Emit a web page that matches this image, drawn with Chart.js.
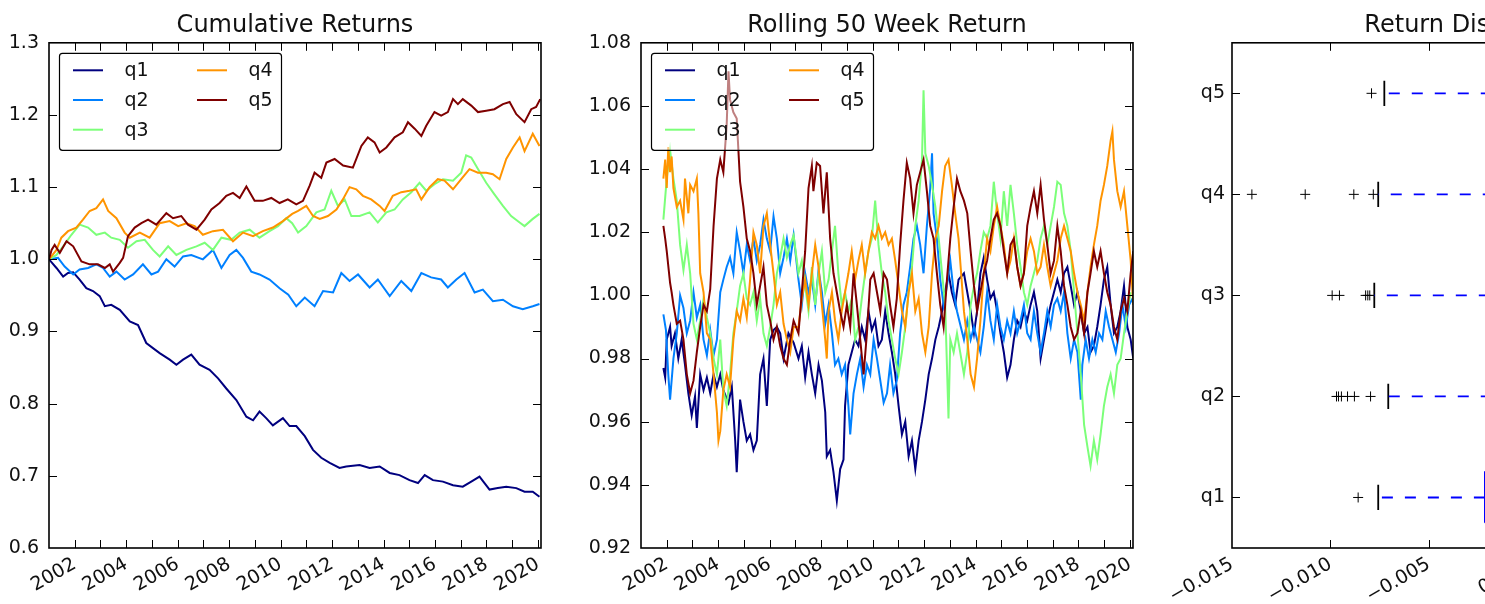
<!DOCTYPE html>
<html>
<head>
<meta charset="utf-8">
<script src="https://cdn.jsdelivr.net/npm/chart.js@4.4.0/dist/chart.umd.min.js"></script>
<style>
  html, body { margin: 0; padding: 0; background: #fff; overflow: hidden; }
  #wrap { position: relative; width: 1485px; height: 604px; overflow: hidden; }
  canvas { position: absolute; top: 0; }
</style>
</head>
<body>
<div id="wrap">
  <canvas id="cum" width="592" height="604" style="left:0px"></canvas>
  <canvas id="roll" width="632" height="604" style="left:552px"></canvas>
  <canvas id="dist" width="632" height="604" style="left:1143px"></canvas>
</div>
<script>
// ---- data ----
const seriesNames = ['q1', 'q2', 'q3', 'q4', 'q5'];
const seriesColors = ['#00007f', '#0080ff', '#7cff79', '#ff9400', '#7f0000'];
const panelTitles = ['Cumulative Returns', 'Rolling 50 Week Return', 'Return Distribution'];
const yearTicks = [2002, 2003, 2004, 2005, 2006, 2007, 2008, 2009, 2010, 2011, 2012, 2013, 2014, 2015, 2016, 2017, 2018, 2019, 2020];

// cumulative returns, [year, value]
const cumQ1 = [[2001.00,1.000],[2001.29,0.988],[2001.55,0.976],[2001.74,0.981],[2001.94,0.982],[2002.19,0.972],[2002.45,0.960],[2002.71,0.956],[2002.97,0.949],[2003.17,0.935],[2003.42,0.937],[2003.75,0.930],[2004.14,0.914],[2004.46,0.909],[2004.78,0.884],[2005.04,0.877],[2005.30,0.870],[2005.69,0.861],[2005.95,0.854],[2006.21,0.861],[2006.53,0.868],[2006.85,0.854],[2007.24,0.847],[2007.57,0.835],[2007.89,0.821],[2008.28,0.805],[2008.67,0.782],[2008.93,0.777],[2009.18,0.789],[2009.44,0.780],[2009.70,0.770],[2010.09,0.780],[2010.35,0.769],[2010.61,0.769],[2010.94,0.755],[2011.26,0.736],[2011.58,0.725],[2011.91,0.718],[2012.29,0.711],[2012.55,0.713],[2013.07,0.715],[2013.46,0.711],[2013.85,0.713],[2014.24,0.704],[2014.62,0.701],[2015.01,0.694],[2015.34,0.690],[2015.60,0.701],[2015.92,0.694],[2016.31,0.692],[2016.70,0.687],[2017.08,0.685],[2017.41,0.692],[2017.73,0.699],[2018.12,0.681],[2018.44,0.683],[2018.77,0.685],[2019.16,0.683],[2019.48,0.678],[2019.80,0.678],[2020.06,0.671]];
const cumQ2 = [[2001.00,1.000],[2001.35,1.002],[2001.61,0.990],[2001.94,0.979],[2002.19,0.986],[2002.52,0.988],[2002.84,0.993],[2003.10,0.988],[2003.36,0.976],[2003.62,0.983],[2003.94,0.972],[2004.27,0.979],[2004.65,0.993],[2004.98,0.979],[2005.24,0.983],[2005.56,1.000],[2005.88,0.990],[2006.21,1.004],[2006.53,1.006],[2006.98,1.000],[2007.37,1.013],[2007.70,0.988],[2008.02,1.006],[2008.28,1.013],[2008.54,1.002],[2008.86,0.983],[2009.18,0.979],[2009.57,0.972],[2009.96,0.960],[2010.30,0.951],[2010.61,0.935],[2010.94,0.947],[2011.32,0.935],[2011.65,0.956],[2012.04,0.954],[2012.36,0.981],[2012.68,0.970],[2013.01,0.979],[2013.46,0.961],[2013.78,0.972],[2014.24,0.949],[2014.69,0.970],[2015.08,0.956],[2015.47,0.981],[2015.85,0.975],[2016.24,0.972],[2016.50,0.961],[2016.83,0.972],[2017.15,0.981],[2017.54,0.954],[2017.86,0.958],[2018.25,0.942],[2018.64,0.944],[2019.03,0.935],[2019.41,0.931],[2019.80,0.935],[2020.06,0.938]];
const cumQ3 = [[2001.00,1.000],[2001.29,1.006],[2001.55,1.018],[2001.87,1.034],[2002.19,1.048],[2002.52,1.044],[2002.84,1.034],[2003.17,1.037],[2003.42,1.030],[2003.75,1.027],[2004.07,1.016],[2004.40,1.025],[2004.72,1.027],[2005.04,1.013],[2005.30,1.004],[2005.63,1.018],[2005.95,1.006],[2006.34,1.013],[2006.73,1.018],[2007.05,1.023],[2007.37,1.013],[2007.70,1.030],[2008.08,1.027],[2008.41,1.037],[2008.80,1.041],[2009.18,1.030],[2009.57,1.039],[2009.90,1.046],[2010.22,1.057],[2010.45,1.050],[2010.68,1.037],[2011.00,1.046],[2011.39,1.065],[2011.71,1.069],[2011.97,1.095],[2012.23,1.074],[2012.49,1.083],[2012.75,1.060],[2013.07,1.060],[2013.46,1.065],[2013.78,1.051],[2014.11,1.065],[2014.43,1.069],[2014.75,1.083],[2015.08,1.093],[2015.40,1.106],[2015.66,1.095],[2015.98,1.104],[2016.31,1.111],[2016.70,1.109],[2017.02,1.120],[2017.21,1.144],[2017.41,1.141],[2017.67,1.125],[2017.99,1.106],[2018.31,1.090],[2018.64,1.074],[2018.96,1.060],[2019.29,1.051],[2019.48,1.046],[2019.80,1.056],[2020.06,1.063]];
const cumQ4 = [[2001.00,1.000],[2001.29,1.013],[2001.48,1.030],[2001.74,1.039],[2002.06,1.044],[2002.32,1.055],[2002.58,1.067],[2002.84,1.071],[2003.10,1.083],[2003.30,1.067],[2003.62,1.057],[2003.94,1.037],[2004.14,1.030],[2004.53,1.037],[2004.91,1.030],[2005.30,1.050],[2005.69,1.053],[2006.02,1.046],[2006.34,1.050],[2006.66,1.046],[2006.98,1.034],[2007.37,1.039],[2007.76,1.041],[2008.15,1.025],[2008.54,1.037],[2008.93,1.032],[2009.31,1.039],[2009.70,1.044],[2010.09,1.053],[2010.45,1.063],[2010.68,1.067],[2011.00,1.074],[2011.26,1.060],[2011.52,1.056],[2011.84,1.060],[2012.17,1.069],[2012.42,1.083],[2012.68,1.100],[2012.94,1.097],[2013.20,1.088],[2013.52,1.083],[2013.85,1.074],[2014.04,1.067],[2014.36,1.088],[2014.69,1.093],[2015.01,1.095],[2015.27,1.097],[2015.47,1.083],[2015.79,1.100],[2016.11,1.111],[2016.37,1.109],[2016.70,1.097],[2017.02,1.111],[2017.34,1.125],[2017.67,1.120],[2017.99,1.120],[2018.25,1.118],[2018.51,1.111],[2018.77,1.139],[2019.03,1.155],[2019.29,1.169],[2019.48,1.150],[2019.80,1.174],[2020.06,1.157]];
const cumQ5 = [[2001.00,1.000],[2001.10,1.013],[2001.22,1.020],[2001.42,1.009],[2001.68,1.025],[2001.94,1.018],[2002.26,0.997],[2002.58,0.993],[2002.90,0.993],[2003.17,0.988],[2003.36,0.993],[2003.49,0.983],[2003.75,0.995],[2003.88,1.002],[2004.07,1.032],[2004.33,1.044],[2004.59,1.050],[2004.85,1.055],[2005.17,1.048],[2005.56,1.064],[2005.82,1.057],[2006.14,1.060],[2006.40,1.048],[2006.73,1.041],[2007.05,1.055],[2007.31,1.069],[2007.63,1.078],[2007.89,1.088],[2008.15,1.092],[2008.41,1.085],[2008.67,1.101],[2008.99,1.081],[2009.31,1.081],[2009.64,1.085],[2009.96,1.078],[2010.28,1.083],[2010.61,1.076],[2010.87,1.081],[2011.13,1.102],[2011.32,1.120],[2011.58,1.113],[2011.78,1.134],[2012.10,1.139],[2012.43,1.130],[2012.81,1.127],[2013.14,1.157],[2013.39,1.169],[2013.65,1.162],[2013.85,1.148],[2014.11,1.155],[2014.43,1.169],[2014.75,1.176],[2014.95,1.190],[2015.21,1.181],[2015.47,1.171],[2015.66,1.185],[2015.98,1.204],[2016.24,1.199],[2016.50,1.204],[2016.70,1.222],[2016.89,1.215],[2017.08,1.222],[2017.41,1.213],[2017.67,1.204],[2017.99,1.206],[2018.31,1.208],[2018.64,1.215],[2018.90,1.218],[2019.16,1.201],[2019.48,1.190],[2019.74,1.208],[2019.93,1.211],[2020.09,1.222]];

// rolling 50 week return, [year, value]
const rollQ1 = [[2001.87,0.977],[2001.94,0.974],[2002.00,0.986],[2002.13,0.990],[2002.19,0.984],[2002.32,0.988],[2002.45,0.980],[2002.58,0.986],[2002.71,0.978],[2002.84,0.969],[2002.97,0.962],[2003.10,0.968],[2003.17,0.958],[2003.30,0.975],[2003.43,0.970],[2003.56,0.974],[2003.69,0.969],[2003.82,0.975],[2003.95,0.971],[2004.08,0.975],[2004.20,0.970],[2004.40,0.966],[2004.53,0.971],[2004.66,0.954],[2004.72,0.944],[2004.85,0.967],[2004.98,0.960],[2005.11,0.954],[2005.24,0.956],[2005.37,0.951],[2005.50,0.954],[2005.63,0.975],[2005.76,0.980],[2005.89,0.965],[2006.02,0.986],[2006.15,0.989],[2006.28,0.990],[2006.41,0.988],[2006.54,0.980],[2006.73,0.988],[2006.93,0.985],[2007.12,0.980],[2007.25,0.984],[2007.38,0.974],[2007.51,0.982],[2007.64,0.975],[2007.77,0.969],[2007.90,0.978],[2008.03,0.973],[2008.16,0.963],[2008.22,0.949],[2008.35,0.951],[2008.48,0.944],[2008.61,0.935],[2008.74,0.945],[2008.87,0.948],[2008.93,0.965],[2009.06,0.978],[2009.19,0.982],[2009.32,0.986],[2009.45,0.984],[2009.58,0.990],[2009.71,0.986],[2009.84,0.995],[2009.97,0.989],[2010.10,0.992],[2010.23,0.984],[2010.36,0.986],[2010.49,0.995],[2010.62,0.988],[2010.75,0.982],[2010.88,0.975],[2011.01,0.965],[2011.14,0.956],[2011.27,0.960],[2011.40,0.949],[2011.53,0.954],[2011.66,0.945],[2011.79,0.954],[2011.92,0.960],[2012.05,0.967],[2012.18,0.975],[2012.31,0.980],[2012.44,0.986],[2012.57,0.990],[2012.70,0.995],[2012.82,1.001],[2012.95,1.007],[2013.08,1.001],[2013.21,0.997],[2013.34,1.005],[2013.55,1.007],[2013.68,1.001],[2013.81,0.995],[2013.94,0.988],[2014.06,0.995],[2014.19,1.007],[2014.32,1.012],[2014.45,1.005],[2014.58,0.999],[2014.71,1.001],[2014.84,0.995],[2014.97,0.988],[2015.10,0.982],[2015.23,0.974],[2015.36,0.978],[2015.49,0.986],[2015.62,0.992],[2015.75,0.990],[2015.88,0.995],[2016.01,0.992],[2016.14,0.997],[2016.27,1.001],[2016.40,0.995],[2016.53,0.980],[2016.66,0.986],[2016.79,0.992],[2016.92,0.997],[2017.05,1.001],[2017.18,1.005],[2017.31,1.001],[2017.44,1.007],[2017.57,1.009],[2017.70,1.003],[2017.83,0.997],[2017.96,1.001],[2018.09,0.995],[2018.22,0.988],[2018.35,0.990],[2018.47,0.982],[2018.60,0.984],[2018.73,0.990],[2018.86,0.997],[2018.99,1.005],[2019.12,1.009],[2019.25,0.997],[2019.38,0.988],[2019.51,0.990],[2019.64,0.995],[2019.77,1.003],[2019.90,0.990],[2020.03,0.986],[2020.13,0.980]];
const rollQ2 = [[2001.87,0.994],[2001.97,0.989],[2002.06,0.975],[2002.13,0.967],[2002.26,0.980],[2002.39,0.988],[2002.52,1.000],[2002.65,0.996],[2002.78,0.988],[2002.91,0.992],[2003.04,1.001],[2003.17,0.993],[2003.30,0.997],[2003.43,0.986],[2003.56,0.981],[2003.69,0.989],[2003.82,0.981],[2003.95,0.986],[2004.08,1.001],[2004.20,1.005],[2004.33,1.009],[2004.46,1.012],[2004.59,1.007],[2004.72,1.020],[2004.85,1.014],[2004.98,1.007],[2005.11,1.016],[2005.24,1.011],[2005.37,1.018],[2005.50,1.011],[2005.63,1.016],[2005.76,1.024],[2005.89,1.018],[2006.02,1.014],[2006.15,1.025],[2006.28,1.018],[2006.41,1.007],[2006.54,1.012],[2006.67,1.018],[2006.80,1.011],[2006.93,1.019],[2007.12,1.005],[2007.25,0.997],[2007.38,1.007],[2007.51,1.001],[2007.64,1.005],[2007.77,0.997],[2007.90,1.008],[2008.03,1.001],[2008.16,0.991],[2008.29,0.997],[2008.42,0.988],[2008.54,0.978],[2008.67,0.980],[2008.80,0.975],[2008.93,0.978],[2009.06,0.965],[2009.13,0.956],[2009.26,0.969],[2009.39,0.975],[2009.52,0.980],[2009.65,0.971],[2009.78,0.978],[2009.91,0.975],[2010.04,0.986],[2010.17,0.980],[2010.30,0.973],[2010.43,0.966],[2010.56,0.969],[2010.68,0.978],[2010.81,0.969],[2010.94,0.973],[2011.07,0.988],[2011.20,0.997],[2011.33,1.001],[2011.46,1.009],[2011.59,1.018],[2011.72,1.022],[2011.85,1.016],[2011.98,1.007],[2012.11,1.022],[2012.24,1.034],[2012.31,1.045],[2012.37,1.026],[2012.50,1.018],[2012.63,1.005],[2012.76,0.997],[2012.89,1.003],[2013.02,1.011],[2013.15,1.001],[2013.28,0.995],[2013.55,0.986],[2013.68,0.992],[2013.81,0.986],[2013.94,0.990],[2014.06,0.986],[2014.19,0.982],[2014.32,0.990],[2014.45,1.001],[2014.58,0.992],[2014.71,0.986],[2014.84,0.997],[2014.97,0.990],[2015.10,0.986],[2015.23,0.992],[2015.36,0.988],[2015.49,0.995],[2015.62,0.988],[2015.75,0.992],[2015.88,0.997],[2016.01,0.988],[2016.14,0.986],[2016.27,0.995],[2016.40,0.988],[2016.53,0.982],[2016.66,0.988],[2016.79,0.995],[2016.92,0.990],[2017.05,0.997],[2017.18,0.999],[2017.31,0.995],[2017.44,1.001],[2017.57,0.988],[2017.70,0.980],[2017.83,0.986],[2017.96,0.982],[2018.09,0.967],[2018.15,0.978],[2018.28,0.986],[2018.41,0.980],[2018.54,0.986],[2018.67,0.982],[2018.80,0.988],[2018.93,0.986],[2019.06,0.995],[2019.19,0.990],[2019.32,0.986],[2019.45,0.982],[2019.58,0.988],[2019.71,0.997],[2019.84,0.990],[2019.97,0.997],[2020.10,0.999]];
const rollQ3 = [[2001.87,1.024],[2002.00,1.037],[2002.13,1.046],[2002.26,1.037],[2002.39,1.030],[2002.52,1.016],[2002.65,1.008],[2002.78,1.016],[2002.91,1.007],[2003.04,0.991],[2003.17,0.986],[2003.30,0.992],[2003.43,0.999],[2003.56,0.993],[2003.69,0.988],[2003.82,0.980],[2003.95,0.975],[2004.08,0.986],[2004.20,0.970],[2004.33,0.965],[2004.46,0.975],[2004.59,0.988],[2004.72,0.995],[2004.85,1.003],[2004.98,1.007],[2005.11,0.999],[2005.24,0.997],[2005.37,1.001],[2005.50,0.992],[2005.63,0.999],[2005.76,0.988],[2005.89,0.984],[2006.02,0.990],[2006.15,0.997],[2006.28,1.007],[2006.41,1.012],[2006.54,1.018],[2006.67,1.012],[2006.80,1.016],[2006.93,1.019],[2007.12,1.007],[2007.25,1.011],[2007.38,1.003],[2007.51,0.995],[2007.64,1.009],[2007.77,0.997],[2007.90,1.007],[2008.03,1.014],[2008.16,1.001],[2008.29,1.005],[2008.42,1.014],[2008.54,1.022],[2008.67,1.007],[2008.80,0.997],[2008.93,1.001],[2009.06,0.995],[2009.19,0.999],[2009.32,0.986],[2009.45,0.990],[2009.58,0.999],[2009.71,1.007],[2009.84,1.014],[2009.97,1.018],[2010.10,1.030],[2010.23,1.016],[2010.36,1.007],[2010.49,1.001],[2010.62,0.992],[2010.75,0.986],[2010.88,0.980],[2011.01,0.975],[2011.14,0.982],[2011.27,0.990],[2011.40,1.001],[2011.53,1.009],[2011.66,1.022],[2011.79,1.030],[2011.92,1.043],[2011.98,1.065],[2012.05,1.045],[2012.18,1.041],[2012.31,1.035],[2012.44,1.028],[2012.57,1.018],[2012.70,1.007],[2012.82,0.997],[2012.95,0.961],[2013.02,0.986],[2013.15,0.982],[2013.28,0.988],[2013.55,0.975],[2013.68,0.982],[2013.81,0.997],[2013.94,1.003],[2014.06,1.007],[2014.19,1.014],[2014.32,1.020],[2014.45,1.018],[2014.58,1.022],[2014.71,1.036],[2014.84,1.026],[2014.97,1.018],[2015.10,1.033],[2015.23,1.022],[2015.36,1.035],[2015.49,1.026],[2015.62,1.016],[2015.75,1.009],[2015.88,1.001],[2016.01,0.997],[2016.14,1.003],[2016.27,1.007],[2016.40,1.011],[2016.53,1.018],[2016.66,1.022],[2016.79,1.016],[2016.92,1.022],[2017.05,1.028],[2017.18,1.036],[2017.31,1.035],[2017.44,1.026],[2017.57,1.022],[2017.70,1.014],[2017.83,1.001],[2017.96,0.988],[2018.09,0.975],[2018.22,0.959],[2018.35,0.952],[2018.47,0.946],[2018.60,0.954],[2018.73,0.948],[2018.86,0.956],[2018.99,0.965],[2019.12,0.971],[2019.25,0.975],[2019.38,0.969],[2019.51,0.978],[2019.64,0.980],[2019.77,0.988],[2019.90,0.995],[2020.03,1.001]];
const rollQ4 = [[2001.87,1.037],[2001.94,1.043],[2002.00,1.034],[2002.06,1.047],[2002.13,1.039],[2002.19,1.044],[2002.26,1.034],[2002.39,1.028],[2002.52,1.030],[2002.65,1.024],[2002.71,1.037],[2002.84,1.026],[2002.91,1.035],[2003.04,1.033],[2003.17,1.037],[2003.23,1.026],[2003.30,1.007],[2003.43,1.001],[2003.56,0.988],[2003.69,0.986],[2003.82,0.975],[2003.95,0.963],[2004.01,0.954],[2004.08,0.957],[2004.20,0.970],[2004.33,0.975],[2004.46,0.971],[2004.59,0.986],[2004.72,0.995],[2004.85,0.992],[2004.98,0.999],[2005.11,0.993],[2005.24,1.005],[2005.37,1.020],[2005.50,1.016],[2005.63,1.007],[2005.76,1.022],[2005.89,1.026],[2006.02,1.016],[2006.15,1.007],[2006.28,0.997],[2006.41,1.001],[2006.54,0.991],[2006.67,0.986],[2006.80,0.982],[2006.93,0.990],[2007.12,0.990],[2007.25,0.999],[2007.38,1.005],[2007.51,0.997],[2007.64,1.007],[2007.77,1.016],[2007.90,1.009],[2008.03,0.997],[2008.16,0.986],[2008.22,0.980],[2008.29,0.995],[2008.42,1.001],[2008.54,0.992],[2008.67,0.986],[2008.80,0.995],[2008.93,1.001],[2009.06,1.007],[2009.19,1.014],[2009.32,1.005],[2009.45,1.011],[2009.58,1.016],[2009.71,1.007],[2009.84,1.014],[2009.97,1.020],[2010.10,1.018],[2010.23,1.022],[2010.36,1.018],[2010.49,1.020],[2010.62,1.016],[2010.75,1.018],[2010.88,1.011],[2011.01,1.003],[2011.14,0.995],[2011.27,0.990],[2011.40,1.001],[2011.53,1.007],[2011.66,0.995],[2011.79,0.999],[2011.92,0.988],[2012.05,0.982],[2012.18,0.990],[2012.31,1.007],[2012.44,1.018],[2012.57,1.022],[2012.70,1.033],[2012.82,1.041],[2012.95,1.043],[2013.08,1.035],[2013.21,1.026],[2013.34,1.018],[2013.55,0.995],[2013.68,0.986],[2013.81,0.975],[2013.94,0.971],[2014.06,0.980],[2014.19,0.992],[2014.32,1.007],[2014.45,1.018],[2014.58,1.014],[2014.71,1.022],[2014.84,1.028],[2014.97,1.022],[2015.10,1.016],[2015.23,1.007],[2015.36,1.011],[2015.49,1.018],[2015.62,1.009],[2015.75,1.003],[2015.88,1.007],[2016.01,1.014],[2016.14,1.018],[2016.27,1.014],[2016.40,1.007],[2016.53,1.009],[2016.66,1.016],[2016.79,1.009],[2016.92,1.003],[2017.05,1.007],[2017.18,1.011],[2017.31,1.018],[2017.44,1.022],[2017.57,1.018],[2017.70,1.014],[2017.83,1.007],[2017.96,1.001],[2018.09,0.997],[2018.22,0.992],[2018.35,1.001],[2018.47,1.009],[2018.60,1.016],[2018.73,1.022],[2018.86,1.030],[2018.99,1.035],[2019.12,1.041],[2019.25,1.049],[2019.32,1.052],[2019.38,1.043],[2019.51,1.033],[2019.64,1.028],[2019.77,1.033],[2019.90,1.022],[2020.03,1.011],[2020.13,0.997]];
const rollQ5 = [[2001.87,1.022],[2001.94,1.018],[2002.00,1.014],[2002.13,1.004],[2002.19,1.001],[2002.26,0.997],[2002.39,0.991],[2002.52,0.992],[2002.65,0.986],[2002.78,0.975],[2002.91,0.969],[2003.04,0.973],[2003.17,0.982],[2003.30,0.990],[2003.43,0.997],[2003.56,0.995],[2003.69,1.002],[2003.82,1.022],[2003.95,1.037],[2004.08,1.043],[2004.20,1.039],[2004.33,1.054],[2004.40,1.071],[2004.46,1.062],[2004.59,1.058],[2004.72,1.056],[2004.85,1.036],[2004.98,1.028],[2005.11,1.018],[2005.24,1.014],[2005.37,1.007],[2005.50,0.997],[2005.63,1.003],[2005.76,1.009],[2005.89,0.997],[2006.02,0.992],[2006.15,0.986],[2006.28,0.990],[2006.41,0.984],[2006.54,0.980],[2006.67,0.978],[2006.80,0.986],[2006.93,0.992],[2007.12,0.988],[2007.25,1.001],[2007.38,1.014],[2007.51,1.034],[2007.64,1.041],[2007.70,1.033],[2007.83,1.042],[2007.96,1.041],[2008.09,1.026],[2008.22,1.039],[2008.35,1.018],[2008.48,1.007],[2008.61,1.001],[2008.74,0.995],[2008.87,0.990],[2009.00,0.997],[2009.13,0.990],[2009.26,1.007],[2009.39,0.997],[2009.52,0.986],[2009.65,0.975],[2009.78,0.988],[2009.91,1.005],[2010.04,1.007],[2010.17,1.001],[2010.30,0.995],[2010.43,1.007],[2010.56,1.005],[2010.68,0.997],[2010.81,0.990],[2010.94,0.999],[2011.07,1.016],[2011.20,1.030],[2011.33,1.042],[2011.46,1.037],[2011.59,1.026],[2011.72,1.035],[2011.85,1.039],[2011.98,1.043],[2012.11,1.033],[2012.24,1.022],[2012.37,1.018],[2012.50,1.007],[2012.63,0.997],[2012.76,0.990],[2012.89,1.005],[2013.02,1.018],[2013.15,1.028],[2013.28,1.037],[2013.41,1.033],[2013.55,1.030],[2013.68,1.026],[2013.81,1.014],[2013.94,1.003],[2014.06,0.995],[2014.19,1.001],[2014.32,1.007],[2014.45,1.011],[2014.58,1.018],[2014.71,1.024],[2014.84,1.026],[2014.97,1.022],[2015.10,1.014],[2015.23,1.007],[2015.36,1.016],[2015.49,1.018],[2015.62,1.009],[2015.75,1.003],[2015.88,1.007],[2016.01,1.022],[2016.14,1.028],[2016.27,1.033],[2016.40,1.026],[2016.53,1.035],[2016.66,1.024],[2016.79,1.016],[2016.92,1.007],[2017.05,1.011],[2017.18,1.022],[2017.31,1.014],[2017.44,1.003],[2017.57,0.997],[2017.70,0.990],[2017.83,0.986],[2017.96,0.988],[2018.09,0.995],[2018.22,0.988],[2018.35,1.001],[2018.47,1.007],[2018.60,1.014],[2018.73,1.009],[2018.86,1.014],[2018.99,1.007],[2019.12,1.001],[2019.25,0.997],[2019.38,0.990],[2019.51,0.986],[2019.64,0.995],[2019.77,0.999],[2019.90,0.995],[2020.03,1.007],[2020.13,1.014]];

// return distribution (box plot), one entry per quintile q1..q5
const whiskerLow  = [-0.00757, -0.00706, -0.00777, -0.00757, -0.00726];
const boxLow      = [-0.00215, -0.00180, -0.00190, -0.00170, -0.00180];
const boxMedian   = [-0.00020,  0.00020,  0.00030,  0.00040,  0.00030];
const boxHigh     = [ 0.00180,  0.00210,  0.00220,  0.00230,  0.00220];
const whiskerHigh = [ 0.00700,  0.00720,  0.00740,  0.00780,  0.00750];
const fliers = [
  [-0.00859],
  [-0.00969, -0.00959, -0.00944, -0.00913, -0.00878, -0.00796],
  [-0.00991, -0.00954, -0.00821, -0.00810, -0.00800],
  [-0.01399, -0.01128, -0.00881, -0.00782],
  [-0.00791]
];

// ---- drawing ----
const FONT = '"DejaVu Sans", "Bitstream Vera Sans", sans-serif';
const INK = '#111';
Chart.defaults.font.family = FONT;
Chart.defaults.color = INK;

// axes frame with inward tick marks on all four sides (matplotlib classic look)
const axesFrame = {
  id: 'axesFrame',
  afterDatasetsDraw(chart) {
    const { ctx, chartArea: a, scales } = chart;
    const len = 8;
    ctx.save();
    ctx.strokeStyle = '#000';
    ctx.lineWidth = 1;
    ctx.beginPath();
    scales.x.ticks.forEach(t => {
      const p = Math.round(scales.x.getPixelForValue(t.value)) + 0.5;
      if (p <= a.left + 1 || p >= a.right - 1) return;
      ctx.moveTo(p, a.bottom); ctx.lineTo(p, a.bottom - len);
      ctx.moveTo(p, a.top); ctx.lineTo(p, a.top + len);
    });
    scales.y.ticks.forEach(t => {
      const p = Math.round(scales.y.getPixelForValue(t.value)) + 0.5;
      if (p <= a.top + 1 || p >= a.bottom - 1) return;
      ctx.moveTo(a.left, p); ctx.lineTo(a.left + len, p);
      ctx.moveTo(a.right, p); ctx.lineTo(a.right - len, p);
    });
    ctx.stroke();
    ctx.lineWidth = 1.6;
    ctx.strokeRect(a.left, a.top, a.right - a.left, a.bottom - a.top);
    ctx.restore();
  }
};

// two-column legend in the upper left corner of the axes
const cornerLegend = {
  id: 'cornerLegend',
  afterDatasetsDraw(chart, args, opts) {
    if (!opts.show) return;
    const { ctx, chartArea: a } = chart;
    const x0 = a.left + 10.5, y0 = a.top + 10.5, w = 222, h = 97;
    ctx.save();
    ctx.beginPath();
    if (ctx.roundRect) ctx.roundRect(x0, y0, w, h, 3); else ctx.rect(x0, y0, w, h);
    ctx.fillStyle = opts.fill || '#fff';
    ctx.fill();
    ctx.strokeStyle = '#000';
    ctx.lineWidth = 1.2;
    ctx.stroke();
    ctx.font = '19px ' + FONT;
    ctx.textBaseline = 'middle';
    ctx.textAlign = 'left';
    chart.data.datasets.forEach((ds, i) => {
      const col = Math.floor(i / 3), row = i % 3;
      const lx = x0 + 13.5 + col * 124;
      const ty = y0 + 17 + row * 29.7;
      ctx.strokeStyle = ds.borderColor;
      ctx.lineWidth = 2;
      ctx.beginPath(); ctx.moveTo(lx, ty); ctx.lineTo(lx + 30, ty); ctx.stroke();
      ctx.fillStyle = INK;
      ctx.fillText(ds.label, lx + 51.5, ty + 1);
    });
    ctx.restore();
  }
};

function titleOpts(text) {
  return { display: true, text, fullSize: false, color: INK,
           font: { size: 24, weight: 'normal', lineHeight: 1.2 },
           padding: { top: 11, bottom: 3 } };
}

// x axis: fixed height, no extra side padding from the rotated labels
function fixX(s) { s.height = 56; s.paddingLeft = 0; s.paddingRight = 0; }

function yearAxis() {
  return {
    type: 'linear', min: 2001.0, max: 2020.12,
    grid: { display: false, drawTicks: false }, border: { display: false },
    afterBuildTicks: s => { s.ticks = yearTicks.map(v => ({ value: v })); },
    afterFit: fixX,
    ticks: { autoSkip: false, minRotation: 30, maxRotation: 30, padding: 5,
             font: { size: 19 }, color: INK,
             callback: v => (v % 2 === 0 ? String(v) : '') }
  };
}

function valueAxis(min, max, step, digits, width) {
  return {
    min, max,
    grid: { display: false, drawTicks: false }, border: { display: false },
    afterFit: s => { s.width = width; s.paddingTop = 0; s.paddingBottom = 0; },
    ticks: { stepSize: step, padding: 10, font: { size: 19 }, color: INK,
             callback: v => v.toFixed(digits) }
  };
}

function lineSets(list) {
  return list.map((d, i) => ({
    label: seriesNames[i], data: d, borderColor: seriesColors[i],
    borderWidth: 2, pointRadius: 0, tension: 0, fill: false, order: 4 - i
  }));
}

function lineChart(id, title, list, yAxis, legendFill) {
  return new Chart(document.getElementById(id), {
    type: 'line',
    data: { datasets: lineSets(list) },
    options: {
      responsive: false, animation: false, devicePixelRatio: 1,
      layout: { padding: { left: 0, right: 51, top: 0, bottom: 0 } },
      plugins: { legend: { display: false }, tooltip: { enabled: false },
                 title: titleOpts(title), cornerLegend: { show: true, fill: legendFill } },
      scales: { x: yearAxis(), y: yAxis }
    },
    plugins: [axesFrame, cornerLegend]
  });
}

lineChart('cum', panelTitles[0], [cumQ1, cumQ2, cumQ3, cumQ4, cumQ5], valueAxis(0.6, 1.3, 0.1, 1, 49), '#fff');
lineChart('roll', panelTitles[1], [rollQ1, rollQ2, rollQ3, rollQ4, rollQ5], valueAxis(0.92, 1.08, 0.02, 2, 89), 'rgba(255,255,255,0.5)');

// box plot built from line segments and cross markers
function seg(points, color, dash) {
  return { type: 'scatter', data: points.map(p => ({ x: p[0], y: p[1] })), showLine: true,
           borderColor: color, borderWidth: 1.8, borderDash: dash || [], pointRadius: 0, tension: 0 };
}
const boxSets = [];
seriesNames.forEach((name, i) => {
  const y = i + 1;
  boxSets.push(seg([[boxLow[i], y], [whiskerLow[i], y]], '#0000ff', [11, 12]));
  boxSets.push(seg([[boxHigh[i], y], [whiskerHigh[i], y]], '#0000ff', [11, 12]));
  boxSets.push(seg([[whiskerLow[i], y - 0.125], [whiskerLow[i], y + 0.125]], '#000'));
  boxSets.push(seg([[whiskerHigh[i], y - 0.125], [whiskerHigh[i], y + 0.125]], '#000'));
  boxSets.push(seg([[boxLow[i], y - 0.25], [boxHigh[i], y - 0.25], [boxHigh[i], y + 0.25],
                    [boxLow[i], y + 0.25], [boxLow[i], y - 0.25]], '#0000ff'));
  boxSets.push(seg([[boxMedian[i], y - 0.25], [boxMedian[i], y + 0.25]], '#ff0000'));
  boxSets.push({ type: 'scatter', data: fliers[i].map(v => ({ x: v, y })), showLine: false,
                 pointStyle: 'cross', pointRadius: 5, pointBorderColor: '#000',
                 pointBorderWidth: 1, borderColor: '#000' });
});

new Chart(document.getElementById('dist'), {
  type: 'scatter',
  data: { datasets: boxSets },
  options: {
    responsive: false, animation: false, devicePixelRatio: 1,
    layout: { padding: { left: 0, right: 51, top: 0, bottom: 0 } },
    plugins: { legend: { display: false }, tooltip: { enabled: false }, title: titleOpts(panelTitles[2]) },
    scales: {
      x: {
        type: 'linear', min: -0.015, max: 0.010,
        grid: { display: false, drawTicks: false }, border: { display: false },
        afterFit: fixX,
        ticks: { stepSize: 0.005, autoSkip: false, minRotation: 30, maxRotation: 30, padding: 5,
                 font: { size: 19 }, color: INK,
                 callback: v => (Math.abs(v) < 1e-9 ? '0.000' : v.toFixed(3).replace('-', '\u2212')) }
      },
      y: {
        type: 'linear', min: 0.5, max: 5.5,
        grid: { display: false, drawTicks: false }, border: { display: false },
        afterBuildTicks: s => { s.ticks = seriesNames.map((n, i) => ({ value: i + 1 })); },
        afterFit: s => { s.width = 89; s.paddingTop = 0; s.paddingBottom = 0; },
        ticks: { padding: 7, font: { size: 19 }, color: INK,
                 callback: v => seriesNames[Math.round(v) - 1] }
      }
    }
  },
  plugins: [axesFrame]
});
</script>
</body>
</html>
